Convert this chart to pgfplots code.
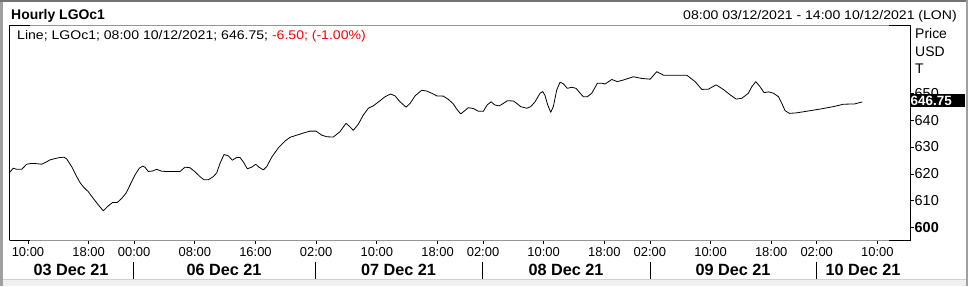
\documentclass[border=0pt]{standalone}
\usepackage{fontspec}
\setmainfont{Liberation Sans}
\newfontfamily\widefont[FakeStretch=1.12]{Liberation Sans}
\usepackage{pgfplots}
\pgfplotsset{compat=1.18}
\definecolor{framegray}{RGB}{150,150,150}
\definecolor{outergray}{RGB}{160,160,160}
\definecolor{stripgray}{RGB}{240,240,240}
\definecolor{negred}{RGB}{255,0,0}

\pgfplotstableread{
i val
-0.47 620.4
0.06 622.1
0.51 621.7
1.17 621.7
1.83 623.6
2.49 623.9
3.15 623.8
3.81 623.6
4.47 624.5
4.90 625.2
5.56 625.7
6.22 626.1
6.75 626.2
7.10 625.6
7.76 622.7
8.42 619.0
8.86 616.8
9.29 615.2
9.95 613.4
10.61 610.9
11.27 608.5
11.93 606.3
12.59 608.1
13.17 609.4
13.78 609.4
14.36 610.9
14.92 612.8
15.45 615.8
16.11 619.6
16.68 622.1
17.13 622.9
17.43 622.5
17.86 620.9
18.45 621.1
18.97 621.7
19.63 621.0
20.29 620.9
21.16 620.9
22.05 620.9
22.70 622.5
23.36 622.3
24.02 620.8
24.68 619.0
25.21 617.8
25.78 617.8
26.44 619.0
26.89 620.4
27.32 623.9
27.85 627.2
28.42 626.7
28.94 625.1
29.52 626.1
29.96 626.1
30.39 624.5
30.92 621.9
31.50 622.5
32.03 623.6
32.46 622.5
33.03 621.5
33.48 622.7
34.14 626.2
35.01 629.7
35.89 632.2
36.55 633.6
37.44 634.4
38.31 635.2
39.19 635.9
39.98 635.9
40.73 634.4
41.39 633.8
42.26 633.7
43.14 635.7
43.93 638.8
44.46 637.5
44.90 636.2
45.56 638.5
46.22 641.9
46.88 644.4
47.54 645.3
48.42 647.2
49.08 648.7
49.83 649.7
50.40 649.0
51.06 646.8
51.85 644.8
52.38 646.2
53.04 649.0
53.92 651.1
54.58 650.8
55.45 649.7
55.90 649.0
56.77 648.9
57.43 647.7
58.09 646.0
58.53 644.1
59.06 642.3
59.50 643.3
60.06 644.6
60.72 644.3
61.38 643.3
62.04 643.3
62.57 645.7
63.06 646.8
63.58 645.6
64.15 645.3
64.68 646.2
65.21 647.2
66.00 647.1
66.45 646.2
66.97 645.0
67.77 644.4
68.29 645.0
68.86 646.8
69.52 650.0
69.88 650.6
70.18 649.1
70.53 645.6
70.93 642.9
71.27 645.0
71.72 651.2
72.16 654.1
72.59 653.5
73.12 651.8
73.70 652.2
74.27 651.8
74.80 650.0
75.23 648.7
75.76 648.7
76.34 650.0
77.08 653.7
77.66 653.7
78.09 653.4
78.98 655.1
79.71 654.3
80.50 654.9
81.82 656.1
82.93 655.5
84.03 655.2
84.91 658.0
85.78 656.7
88.87 656.7
89.96 654.3
90.85 651.4
91.72 651.5
92.73 653.1
93.69 651.4
94.58 649.4
95.37 647.8
96.12 648.1
96.99 650.0
97.44 652.4
97.97 654.3
98.53 652.4
99.06 650.2
99.63 650.5
100.29 650.0
100.95 648.7
101.40 646.2
101.83 643.5
102.40 642.5
103.37 642.7
104.69 643.3
106.45 644.1
108.20 645.0
109.52 645.9
110.98 646.0
112.00 646.75
}\lgodata

\begin{document}
\begin{tikzpicture}
\begin{scope}[x=1bp,y=1bp]
% picture coordinates: 968 x 286, y_tikz = 286 - y_pixel
\path[use as bounding box] (0,0) rectangle (968,286);
\fill[white] (0,0) rectangle (968,286);
\fill[stripgray] (0,0) rectangle (968,6.5);
\draw[black!18, line width=0.6bp] (0,6.5) -- (968,6.5);
\draw[outergray, line width=2.5bp] (1.25,0) -- (1.25,286);
\draw[black!55, line width=2bp] (0,285) -- (968,285);
\draw[outergray, line width=2bp] (967,0) -- (967,286);
\end{scope}

\begin{axis}[
  at={(9bp,46bp)}, anchor=south west,
  width=901bp, height=215bp, scale only axis,
  xmin=-0.5, xmax=118.3, ymin=595.43, ymax=675.35,
  axis line style={draw=none},
  xtick={2,10,16,24,32,40,48,56,62,70,78,84,92,100,106,114},
  xticklabels={10:00,18:00,00:00,08:00,16:00,02:00,10:00,18:00,02:00,10:00,18:00,02:00,10:00,18:00,02:00,10:00},
  xtick pos=bottom, ytick pos=right,
  tick align=outside,
  major tick length=3.5bp,
  tick style={black, line width=0.7bp},
  ytick={600,610,620,630,640,650},
  yticklabels={\textbf{600},610,620,630,640,650},
  xticklabel style={font=\fontsize{13}{15}\selectfont, inner sep=4bp},
  yticklabel style={font=\fontsize{14.5}{16}\selectfont, inner sep=1bp},
]
\addplot[black, line width=0.8bp, line join=round] table[x=i, y=val] {\lgodata};
\end{axis}

\begin{scope}[x=1bp,y=1bp]
% titles
\node[anchor=base west, inner sep=0pt, font=\bfseries\fontsize{14}{16}\selectfont] at (11,266.8) {Hourly LGOc1};
\node[anchor=base east, inner sep=0pt, font=\widefont\fontsize{12.6}{15}\selectfont] at (957,266.8) {08:00 03/12/2021 - 14:00 10/12/2021 (LON)};

% plot frame
\draw[framegray, line width=0.8bp] (9,46) -- (910.5,46);
\draw[framegray, line width=0.8bp] (9,261) -- (910.5,261);
\draw[black, line width=0.9bp] (9.5,46) -- (9.5,261);
\draw[black, line width=0.9bp] (910.5,46) -- (910.5,261);
\draw[black, line width=0.9bp] (9.5,46) -- (30,46) (9.5,261) -- (30,261);
\draw[black, line width=0.9bp] (889,46) -- (910.5,46) (889,261) -- (910.5,261);

% legend line
\node[anchor=base west, inner sep=0pt, font=\widefont\fontsize{12.6}{15}\selectfont] at (17,246.3) {Line; LGOc1; 08:00 10/12/2021; 646.75; \textcolor{negred}{-6.50; (-1.00\%)}};

% axis caption on right
\node[anchor=base west, inner sep=0pt, font=\fontsize{14}{16}\selectfont] at (915,247.7) {Price};
\node[anchor=base west, inner sep=0pt, font=\fontsize{14}{16}\selectfont] at (915,230) {USD};
\node[anchor=base west, inner sep=0pt, font=\fontsize{14}{16}\selectfont] at (915,212.7) {T};

% last value box
\fill[black] (909.5,179) rectangle (965,192);
\node[anchor=base west, inner sep=0pt, text=white, font=\bfseries\fontsize{13.5}{15}\selectfont] at (910.5,180.8) {646.75};

% day separators and labels
\foreach \xx in {133,315,482,650,816} {\draw[black, line width=0.9bp] (\xx,7) -- (\xx,24);}
\foreach \xx/\lab in {71/03 Dec 21,224/06 Dec 21,398.5/07 Dec 21,566/08 Dec 21,733/09 Dec 21,863/10 Dec 21}
  {\node[anchor=base, inner sep=0pt, font=\bfseries\fontsize{16.3}{18}\selectfont] at (\xx,11) {\lab};}
\end{scope}
\end{tikzpicture}
\end{document}
